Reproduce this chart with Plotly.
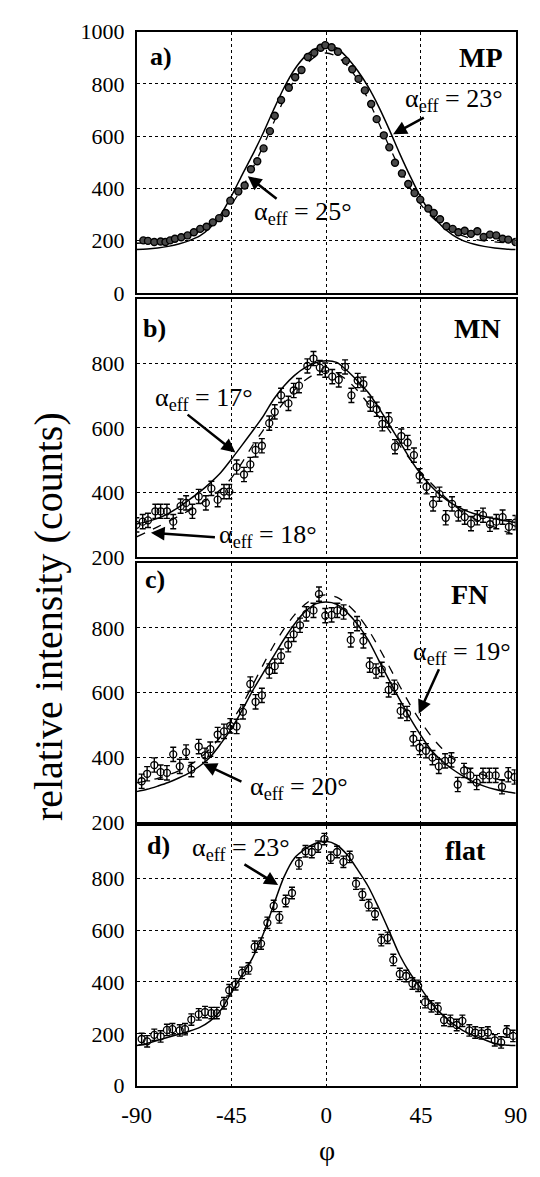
import plotly.graph_objects as go

# ---------------- data ----------------
# panel a (MP)
A_PHI = [-86.8, -84.6, -81.6, -78.6, -76.3, -74.1, -71.8, -68.8, -65.8, -62.8, -59.8, -56.8, -53.8, -50.8,
         -47.7, -45.5, -41.7, -38.7, -35.7, -32.7, -29.7, -26.7, -24.4, -21.4, -17.7, -14.7, -11.7, -8.7,
         -5.6, -2.6, -0.4, 2.6, 5.6, 9.4, 12.4, 15.4, 18.4, 21.4, 24.0, 27.4, 30.0, 32.7, 36.0, 39.0, 42.0,
         44.7, 48.5, 51.1, 54.1, 57.1, 60.1, 62.8, 65.8, 68.8, 71.8, 74.8, 77.8, 80.8, 83.8, 86.5, 89.9]
A_VAL = [201, 199, 195, 197, 195, 201, 207, 213, 220, 232, 245, 253, 270, 286,
         306, 353, 388, 411, 473, 504, 553, 619, 678, 738, 785, 825, 853, 903,
         919, 938, 948, 940, 923, 888, 856, 819, 775, 723, 665, 603, 557, 498, 457, 417, 382,
         357, 323, 306, 282, 255, 245, 232, 238, 226, 236, 214, 223, 220, 207, 204, 195]

# panel b (MN)
B_PHI = [-90.1, -87.1, -84.6, -81.1, -78.6, -75.6, -72.6, -69.1, -66.5, -63.5, -60.5, -57.1, -54.5, -51.5,
         -48.5, -46.0, -42.5, -39.0, -36.0, -33.5, -30.5, -27.0, -24.4, -21.4, -17.9, -15.4, -12.9, -8.9,
         -6.0, -3.0, -0.4, 2.9, 6.0, 9.0, 12.0, 15.0, 17.7, 21.0, 24.0, 26.7, 29.7, 32.7, 35.7, 38.7, 41.7,
         44.4, 47.7, 50.8, 53.8, 56.8, 59.8, 62.8, 65.8, 68.8, 71.8, 74.5, 77.8, 80.8, 83.8, 86.8, 89.9]
B_VAL = [300, 310, 314, 342, 342, 342, 310, 358, 368, 342, 388, 368, 413, 378,
         403, 403, 479, 456, 487, 532, 545, 615, 650, 701, 676, 716, 731, 792,
         815, 787, 779, 759, 749, 789, 701, 747, 736, 674, 658, 613, 625, 542, 575, 555, 516,
         452, 418, 365, 395, 322, 365, 334, 324, 304, 322, 330, 302, 310, 324, 294, 307]
B_ERR = 22

# panel c (FN)
C_PHI = [-87.6, -85.0, -81.6, -78.6, -75.6, -72.6, -69.5, -66.5, -64.0, -60.5, -57.5, -55.0, -51.5, -48.5,
         -45.5, -42.5, -39.5, -36.0, -33.5, -30.5, -27.0, -24.4, -21.4, -18.0, -15.4, -12.4, -9.4, -6.0,
         -3.4, -0.4, 2.6, 5.3, 8.3, 11.7, 14.7, 17.7, 20.7, 23.7, 26.4, 29.7, 32.4, 35.4, 38.4, 41.4,
         44.4, 47.4, 50.5, 53.5, 56.5, 59.5, 62.5, 65.5, 68.5, 71.5, 74.5, 77.5, 80.5, 83.5, 86.5, 89.5]
C_VAL = [327, 350, 377, 355, 353, 410, 373, 417, 363, 434, 407, 426, 471, 481,
         498, 496, 541, 627, 572, 592, 667, 682, 713, 748, 780, 808, 843, 854,
         904, 838, 840, 854, 849, 763, 813, 760, 685, 667, 672, 609, 617, 544, 536, 458,
         431, 421, 400, 373, 390, 393, 317, 360, 345, 323, 345, 345, 345, 310, 347, 340]
C_ERR = 22

# panel d (flat)
D_PHI = [-87.6, -85.0, -81.6, -78.6, -75.6, -73.0, -69.5, -67.0, -64.0, -60.5, -57.5, -54.5, -51.9, -48.5,
         -46.0, -43.0, -39.9, -36.9, -33.9, -30.9, -27.9, -24.9, -22.2, -19.2, -16.2, -12.9, -9.8, -6.8,
         -3.8, -0.8, 2.2, 5.2, 8.2, 11.2, 14.2, 17.2, 20.2, 23.2, 26.2, 29.2, 31.9, 35.0, 38.0, 41.0,
         43.7, 47.0, 50.0, 53.0, 56.0, 59.0, 62.0, 64.7, 68.0, 70.8, 73.8, 76.8, 80.1, 83.1, 85.8, 88.8]
D_VAL = [180, 171, 196, 190, 215, 218, 213, 218, 255, 275, 284, 280, 280, 318,
         368, 391, 435, 452, 536, 548, 628, 693, 649, 712, 743, 857, 904, 901,
         922, 951, 879, 901, 863, 882, 779, 737, 696, 662, 561, 570, 485, 431, 423, 394,
         385, 322, 306, 297, 253, 250, 234, 250, 213, 205, 202, 205, 175, 167, 209, 192]
D_ERR = 22

# fitted curves
FIT_PHI = [-90, -85, -80, -75, -70, -65, -60, -55, -50, -45, -40, -35, -30, -25, -20, -15, -10, -5, 0,
           5, 10, 15, 20, 25, 30, 35, 40, 45, 50, 55, 60, 65, 70, 75, 80, 85, 90]
A_FIT23 = [166, 168, 172, 178, 187, 200, 218, 250, 300, 370, 450, 527, 610, 700, 785, 855, 905, 935, 945,
           937, 900, 850, 788, 712, 625, 532, 445, 365, 302, 255, 222, 200, 187, 178, 172, 168, 166]
A_FIT25 = [190, 192, 195, 199, 206, 218, 235, 258, 292, 338, 400, 475, 560, 650, 740, 815, 870, 905, 918,
           905, 870, 815, 740, 650, 560, 475, 400, 338, 292, 258, 235, 218, 206, 199, 195, 192, 190]
B_FIT17 = [303, 310, 320, 335, 355, 378, 402, 430, 462, 503, 546, 590, 635, 688, 730, 763, 787, 802, 808,
           803, 777, 745, 710, 662, 610, 557, 503, 457, 419, 388, 365, 348, 335, 326, 319, 313, 307]
B_FIT18 = [263, 278, 294, 310, 327, 345, 364, 385, 410, 445, 492, 545, 592, 637, 680, 718, 748, 768, 777,
           769, 748, 715, 675, 635, 592, 545, 502, 462, 428, 395, 365, 340, 320, 305, 293, 280, 268]
C_FIT20 = [295, 302, 312, 323, 337, 353, 374, 402, 443, 489, 545, 605, 660, 712, 765, 812, 850, 874, 880,
           873, 847, 810, 762, 700, 638, 578, 520, 468, 422, 390, 364, 343, 325, 312, 302, 295, 290]
C_FIT19 = [322, 328, 336, 346, 359, 376, 398, 428, 465, 510, 562, 622, 685, 745, 797, 840, 873, 895, 902,
           895, 873, 840, 795, 740, 680, 620, 562, 510, 465, 428, 398, 376, 359, 346, 336, 328, 322]
D_FIT23 = [155, 163, 175, 187, 198, 210, 225, 250, 292, 360, 425, 492, 582, 695, 805, 878, 912, 935, 942,
           928, 890, 832, 768, 685, 595, 502, 432, 375, 318, 275, 240, 212, 193, 178, 163, 157, 155]

Y_TICKS_A = [0, 200, 400, 600, 800, 1000]
Y_TICKS_B = [200, 400, 600, 800]
Y_TICKS_C = [200, 400, 600, 800]
Y_TICKS_D = [0, 200, 400, 600, 800]
X_TICKS = [-90, -45, 0, 45, 90]
X_TICK_TEXT = ["-90", "-45", "0", "45", "90"]
PANEL_TAGS = ["a)", "b)", "c)", "d)"]
PANEL_NAMES = ["MP", "MN", "FN", "flat"]

# ---------------- figure ----------------
W, H = 540, 1177
FONT = "Liberation Serif"
X0, X1 = 128, 527
PANELS = [(20, 287, 0, 1000, Y_TICKS_A), (293, 557, 200, 1000, Y_TICKS_B),
          (563, 828, 200, 1000, Y_TICKS_C), (832, 1097, 0, 1000, Y_TICKS_D)]

fig = go.Figure()
layout = dict(width=W, height=H, margin=dict(l=0, r=0, t=0, b=0),
              paper_bgcolor="white", plot_bgcolor="white", showlegend=False,
              font=dict(family=FONT, color="black", size=20))

for i, (top, bot, y0, y1, yt) in enumerate(PANELS):
    n = "" if i == 0 else str(i + 1)
    layout["xaxis" + n] = dict(domain=[X0 / W, X1 / W], range=[-90, 90], anchor="y" + n,
                               tickvals=X_TICKS, ticktext=X_TICK_TEXT, showticklabels=(i == 3),
                               tickfont=dict(family=FONT, size=23, color="black"),
                               showgrid=True, gridcolor="black", griddash="dot", gridwidth=1,
                               zeroline=False, showline=True, mirror=True, linecolor="black",
                               linewidth=1.5, ticks="", ticklabelstandoff=8)
    layout["yaxis" + n] = dict(domain=[1 - bot / H, 1 - top / H], range=[y0, y1], anchor="x" + n,
                               tickvals=yt, tickfont=dict(family=FONT, size=22, color="black"),
                               showgrid=True, gridcolor="black", griddash="dot", gridwidth=1,
                               zeroline=False, showline=True, mirror=True, linecolor="black",
                               linewidth=1.5, ticks="", ticklabelstandoff=6)
fig.update_layout(**layout)


def add_fit(yvals, ax, dash):
    fig.add_trace(go.Scatter(x=FIT_PHI, y=yvals, mode="lines", xaxis="x" + ax, yaxis="y" + ax,
                             line=dict(color="black", width=1.5 if dash == "solid" else 1.3,
                                       dash=dash, shape="spline", smoothing=0.8)))


# panel a
add_fit(A_FIT23, "", "solid")
add_fit(A_FIT25, "", "dash")
fig.add_trace(go.Scatter(x=A_PHI, y=A_VAL, mode="markers", xaxis="x", yaxis="y",
                         marker=dict(symbol="circle", size=7, color="#4a4a4a",
                                     line=dict(color="black", width=1.4))))

# panels b-d
for ax, phi, val, err, fits in [("2", B_PHI, B_VAL, B_ERR, [(B_FIT17, "solid"), (B_FIT18, "dash")]),
                                ("3", C_PHI, C_VAL, C_ERR, [(C_FIT20, "solid"), (C_FIT19, "dash")]),
                                ("4", D_PHI, D_VAL, D_ERR, [(D_FIT23, "solid")])]:
    for fv, d in fits:
        add_fit(fv, ax, d)
    fig.add_trace(go.Scatter(x=phi, y=val, mode="markers", xaxis="x" + ax, yaxis="y" + ax,
                             marker=dict(symbol="circle-open", size=7, color="black",
                                         line=dict(color="black", width=1.3)),
                             error_y=dict(type="constant", value=err, color="black",
                                          thickness=1.4, width=3)))

ann = []
axes = ["", "2", "3", "4"]
tag_pos = [(-84.5, 905), (-88, 909), (-87, 949), (-86, 925)]
name_pos = [(85, 899), (84, 909), (78, 904), (77, 906)]
for i, a in enumerate(axes):
    ann.append(dict(x=tag_pos[i][0], y=tag_pos[i][1], xref="x" + a, yref="y" + a,
                    text="<b>" + PANEL_TAGS[i] + "</b>",
                    showarrow=False, xanchor="left", yanchor="middle",
                    font=dict(family=FONT, size=26, color="black")))
    ann.append(dict(x=name_pos[i][0], y=name_pos[i][1], xref="x" + a, yref="y" + a,
                    text="<b>" + PANEL_NAMES[i] + "</b>",
                    showarrow=False, xanchor="right", yanchor="middle",
                    font=dict(family=FONT, size=28, color="black")))

# alpha_eff labels: (axis, degrees, text center, arrow tail, arrow tip)
ALPHA = [("", "23", (60.7, 738), (47.1, 674), (31.8, 607)),
         ("", "25", (-11.0, 307), (-22.8, 356), (-37.2, 446)),
         ("2", "17", (-58.0, 691), (-66.5, 645), (-43.1, 524)),
         ("2", "18", (-27.7, 264), (-52.1, 261), (-83.2, 276)),
         ("3", "19", (64.7, 723), (53.9, 677), (44.0, 535)),
         ("3", "20", (-12.9, 306), (-39.5, 324), (-58.4, 381)),
         ("4", "23", (-40.4, 913), (-39.5, 857), (-22.8, 774))]
for a, deg, tc, tail, tip in ALPHA:
    ann.append(dict(x=tc[0], y=tc[1], xref="x" + a, yref="y" + a,
                    text="α<sub>eff</sub> = " + deg + "°", showarrow=False,
                    xanchor="center", yanchor="middle",
                    font=dict(family=FONT, size=26, color="black")))
    ann.append(dict(x=tip[0], y=tip[1], xref="x" + a, yref="y" + a, ax=tail[0], ay=tail[1],
                    axref="x" + a, ayref="y" + a, text="", showarrow=True,
                    arrowhead=2, arrowsize=1.1, arrowwidth=2.5, arrowcolor="black"))

ann.append(dict(x=36 / W, y=1 - 618 / H, xref="paper", yref="paper", text="relative intensity (counts)",
                textangle=-90, showarrow=False, xanchor="center", yanchor="middle",
                font=dict(family=FONT, size=40, color="black")))
ann.append(dict(x=328 / W, y=1 - 1163 / H, xref="paper", yref="paper", text="φ",
                showarrow=False, xanchor="center", yanchor="middle",
                font=dict(family=FONT, size=28, color="black")))
fig.update_layout(annotations=ann)

fig.write_html("out.html")
